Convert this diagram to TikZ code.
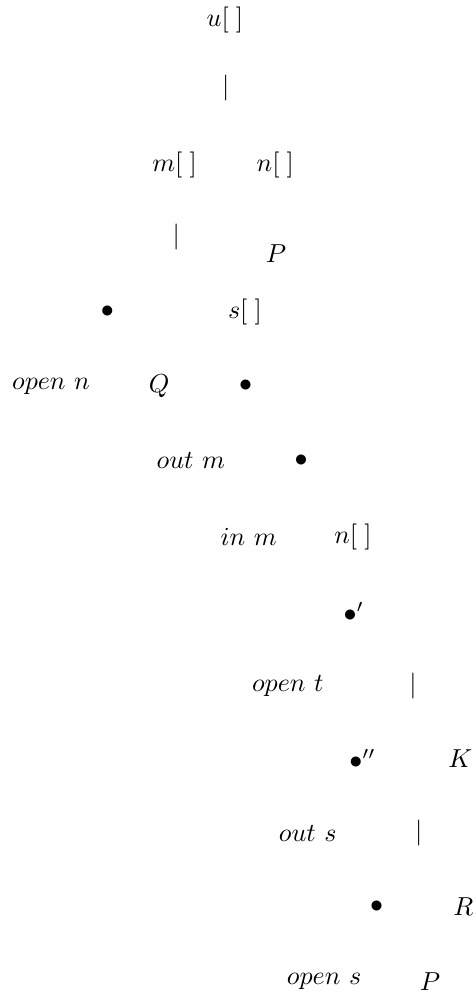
\documentclass[tikz,border=0pt]{standalone}
\usepackage{tikz}
\usetikzlibrary{positioning}

\begin{document}
\begin{tikzpicture}[x=1cm, y=1cm, term/.style={inner sep=1pt}]

  %% canvas
  \useasboundingbox (0,0) rectangle (6.419,13.527);

  %% upper part
  \node[term] (u)    at (3.04,13.26) {$u[\;]$};
  \node[term] (bara) at (3.05,12.34) {$|$};
  \node[term] (m)    at (2.36,11.30) {$m[\;]$};
  \node[term] (n)    at (3.72,11.30) {$n[\;]$};
  \node[term] (barb) at (2.38,10.32) {$|$};
  \node[term] (Pa)   at (3.73,10.10) {$P$};
  \node[term] (dota) at (1.45,9.31) {$\bullet$};
  \node[term] (s)    at (3.31,9.31) {$s[\;]$};

  %% middle part
  \node[term] (openn) at (0.69,8.31) {$open\ n$};
  \node[term] (Q)     at (2.15,8.31) {$Q$};
  \node[term] (dotb)  at (3.32,8.31) {$\bullet$};
  \node[term] (outm)  at (2.58,7.30) {$out\ m$};
  \node[term] (dotc)  at (4.07,7.30) {$\bullet$};
  \node[term] (inm)   at (3.36,6.27) {$in\ m$};
  \node[term] (nb)    at (4.77,6.27) {$n[\;]$};
  \node[term] (dotd)  at (4.78,5.26) {$\bullet'$};

  %% lower part
  \node[term] (opent) at (3.89,4.26) {$open\ t$};
  \node[term] (barc)  at (5.58,4.26) {$|$};
  \node[term] (dote)  at (4.90,3.27) {$\bullet''$};
  \node[term] (K)     at (6.22,3.27) {$K$};
  \node[term] (outs)  at (4.16,2.27) {$out\ s$};
  \node[term] (bard)  at (5.66,2.27) {$|$};
  \node[term] (dotf)  at (5.09,1.28) {$\bullet$};
  \node[term] (R)     at (6.26,1.28) {$R$};
  \node[term] (opens) at (4.38,0.26) {$open\ s$};
  \node[term] (Pb)    at (5.81,0.26) {$P$};

\end{tikzpicture}
\end{document}
